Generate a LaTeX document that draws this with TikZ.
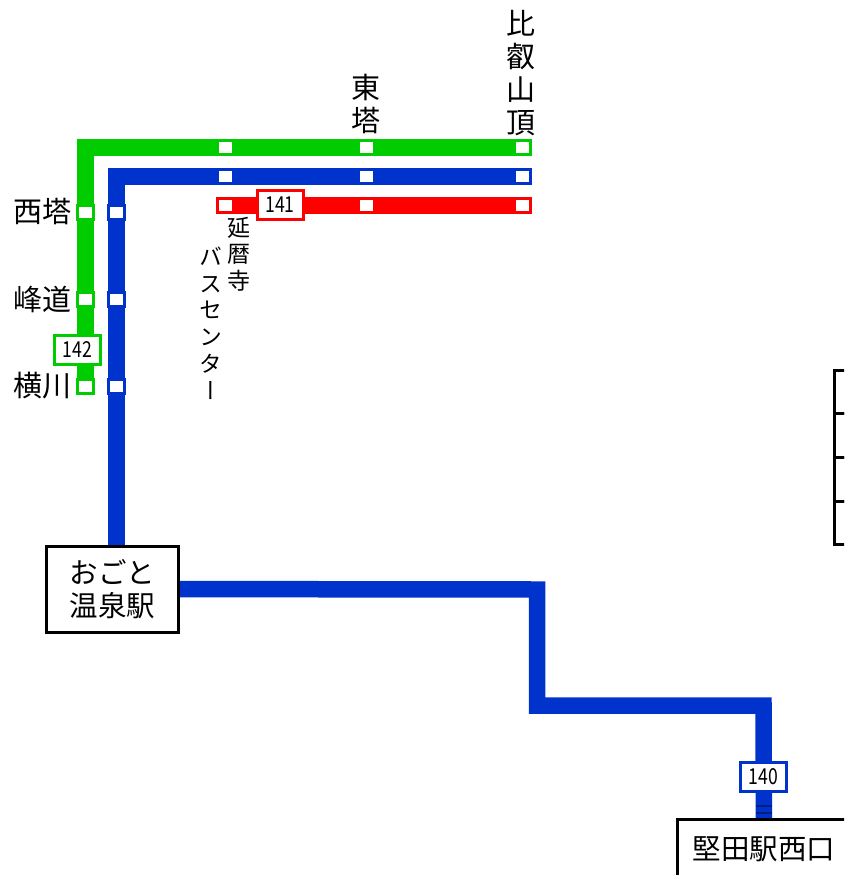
\documentclass[tikz,border=0pt]{standalone}
\usepackage{fontspec}
\setmainfont{Noto Sans CJK JP}
\newfontfamily\cjkv[RawFeature=+vert]{Noto Sans CJK JP}
\newfontfamily\numf[FakeStretch=0.8]{Noto Sans CJK JP}
\usetikzlibrary{backgrounds}
\definecolor{gline}{RGB}{0,204,0}
\definecolor{bline}{RGB}{0,51,204}
\definecolor{rline}{RGB}{255,0,0}
\tikzstyle{s} = [rectangle, draw, fill=white, line width=3pt, inner sep=0pt, minimum width=16pt, minimum height=14pt]
\tikzstyle{n} = [rectangle, draw, fill=white, line width=3pt, inner sep=0pt, minimum width=46pt, minimum height=29pt, font=\numf\fontsize{22}{22}\selectfont]
\tikzstyle{b} = [align=center, rectangle, draw=black, fill=white, line width=3pt, inner sep=0pt, font=\fontsize{28.5}{33}\selectfont]
\tikzstyle{l} = [line width=16.5pt, line join=miter]
\tikzstyle{t} = [align=center, inner sep=0pt, font=\fontsize{29}{33}\selectfont]
\tikzstyle{ts} = [align=center, inner sep=0pt, font=\cjkv\fontsize{23}{26.7}\selectfont]
\begin{document}
\begin{tikzpicture}[x=1pt, y=-1pt]
\useasboundingbox (0,0) rectangle (844,875);
\clip (0,0) rectangle (844,875);
\node [s, draw=gline] (g1) at (225.5,147.5) {};
\node [s, draw=gline] (g2) at (366,147.5) {};
\node [s, draw=gline] (g3) at (522,147.5) {};
\node [s, draw=bline] (b1) at (225.5,176.5) {};
\node [s, draw=bline] (b2) at (366,176.5) {};
\node [s, draw=bline] (b3) at (522,176.5) {};
\node [s, draw=rline] (r1) at (225.5,205.5) {};
\node [s, draw=rline] (r2) at (366,205.5) {};
\node [s, draw=rline] (r3) at (522,205.5) {};
\node [s, draw=gline] (g4) at (85.5,212) {};
\node [s, draw=gline] (g5) at (85.5,299) {};
\node [s, draw=gline] (g6) at (85.5,386) {};
\node [s, draw=bline] (b4) at (116.5,212) {};
\node [s, draw=bline] (b5) at (116.5,299) {};
\node [s, draw=bline] (b6) at (116.5,386) {};
\node [n, draw=rline] (n141) at (280,205) {141};
\node [n, draw=gline] (n142) at (77.5,350) {142};
\node [n, draw=bline] (n140) at (763.5,777) {140};
\node [b, minimum width=132pt, minimum height=86pt] (ogoto) at (112.5,589) {おごと\\温泉駅};
\node [b, minimum width=174pt, minimum height=60pt] (katata) at (764,849) {堅田駅西口};
\node [b, minimum width=60pt, minimum height=43.5pt] (row1) at (864,392) {};
\node [b, minimum width=60pt, minimum height=43.5pt, below of=row1, node distance=43.7pt] (row2) {};
\node [b, minimum width=60pt, minimum height=43.5pt, below of=row2, node distance=43.7pt] (row3) {};
\node [b, minimum width=60pt, minimum height=43.5pt, below of=row3, node distance=43.7pt] (row4) {};
\coordinate (bend1) at (537,589.5);
\coordinate (bend2) at (763.5,705.5);
\node [t] (hiei) at (521,73) {比\\叡\\山\\頂};
\node [t] (toto) at (365.5,104) {東\\塔};
\node [t, left of=g4, node distance=43pt] (saito) {西塔};
\node [t, left of=g5, node distance=43pt] (mine) {峰道};
\node [t, left of=g6, node distance=43pt] (yokawa) {横川};
\node [ts] (enryaku) at (238.5,254) {延\\暦\\寺};
\node [ts] (basu) at (210.5,323) {バ\\ス\\セ\\ン\\タ\\ー};
\begin{scope}[on background layer]
\draw [l, gline] (g3.east) -- (g1.center) -| (g6.center);
\draw [l, bline] (b3.east) -- (b1.center) -| (b6.center) -- (b6 |- ogoto.north);
\draw [l, rline] (r3.east) -- (r1.center);
\draw [l, bline] (ogoto.center) -- (bend1) |- (bend2) -- (katata.center);
\draw [line width=2.5pt, color=bline!60!black] (755.5,806) -- (771.5,806);
\draw [line width=2.5pt, color=bline!60!black] (755.5,813) -- (771.5,813);
\end{scope}
\end{tikzpicture}
\end{document}
